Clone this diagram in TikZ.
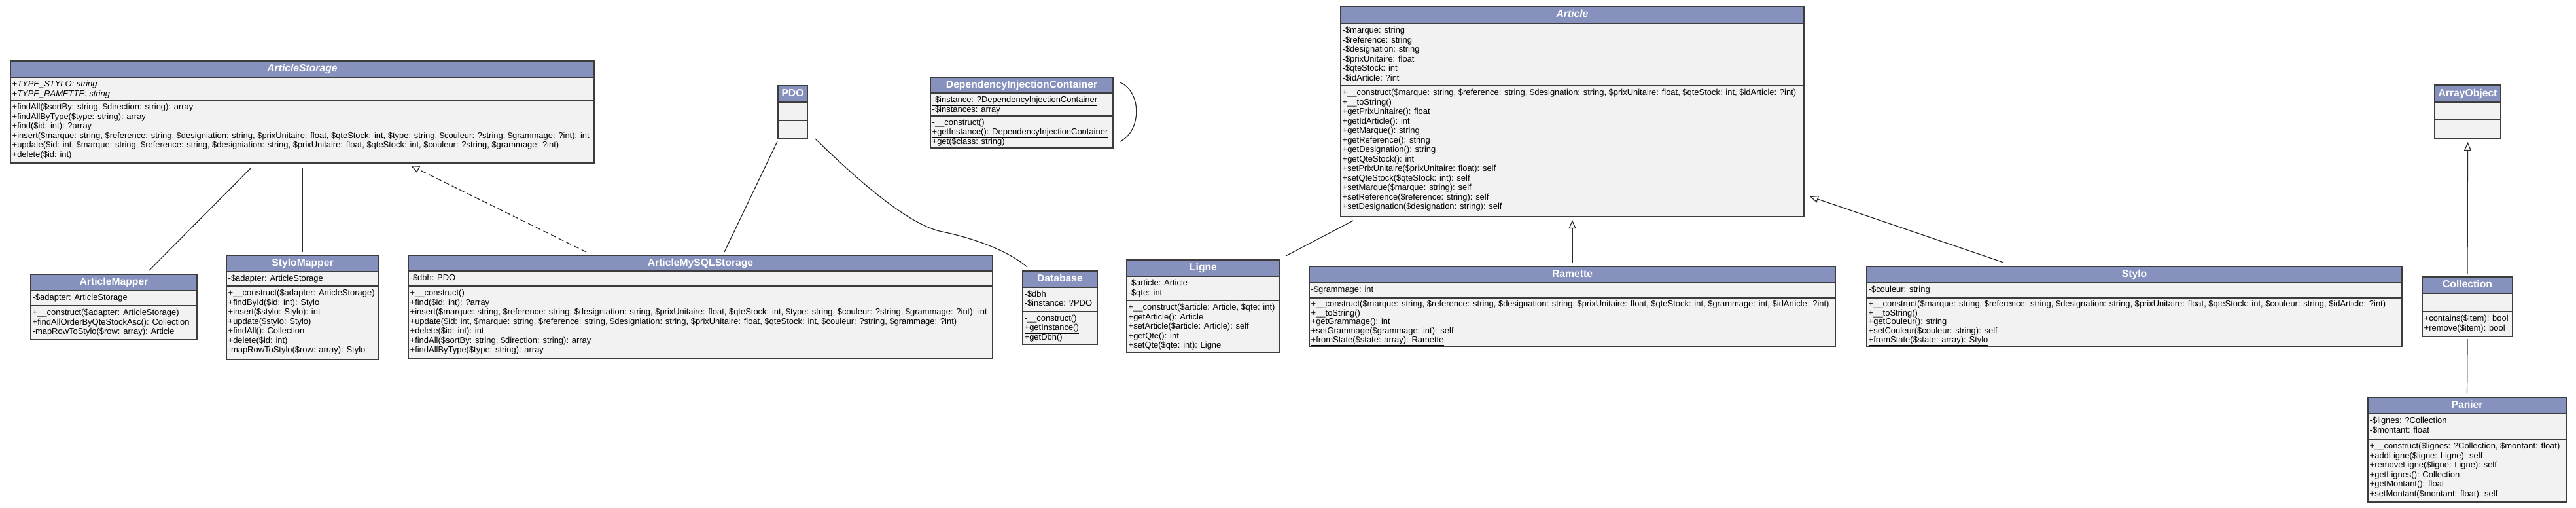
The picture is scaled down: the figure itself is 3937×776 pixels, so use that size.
\documentclass[tikz,border=0pt]{standalone}
\usepackage{fontspec}
\setmainfont{Liberation Sans}
\usetikzlibrary{arrows.meta,calc}
\definecolor{hdr}{RGB}{134,145,190}
\definecolor{bodyc}{RGB}{242,242,242}
\definecolor{bord}{RGB}{60,60,60}
\definecolor{conn}{RGB}{40,40,40}
\tikzset{
  classbody/.style={anchor=north west, fill=bodyc, inner sep=0pt, outer sep=0pt},
  hdrfill/.style={fill=hdr},
  border/.style={draw=bord, line width=1.6pt},
  title/.style={text=white, inner sep=0pt, text height=11.3pt, text depth=3.3pt, font=\fontsize{15.7}{18}\selectfont\bfseries},
  titleit/.style={title, font=\fontsize{15.7}{18}\selectfont\bfseries\itshape},
  txt/.style={anchor=north west, inner sep=0pt, align=left, font=\fontsize{12.95}{14.5}\selectfont},
  txtit/.style={txt, font=\fontsize{12.95}{14.5}\selectfont\itshape},
  txtsm/.style={txt, font=\fontsize{12.95}{14}\selectfont},
  txtrs/.style={txt, font=\fontsize{12.95}{13.8}\selectfont},
  assoc/.style={draw=conn, line width=1.2pt},
  gen/.style={assoc, -{Triangle[open, length=13pt, width=11pt, fill=white]}},
  real/.style={gen, dash pattern=on 8pt off 5pt},
}
% #1 name, #2 x0, #3 y0, #4 x1, #5 y header, #6 y divider, #7 y bottom, #8 title, #9 title style
\newcommand\umlclass[9]{%
  \node[classbody, minimum width={#4-#2}, minimum height={#7-#3}] (#1) at (#2,#3) {};
  \fill[hdrfill] (#2,#3) rectangle (#4,#5);
  \draw[border] (#2,#5) -- (#4,#5) (#2,#6) -- (#4,#6);
  \draw[border] (#2,#3) rectangle (#4,#7);
  \node[#9] (#1-t) at ({(#2+#4)/2},{(#3+#5)/2}) {#8};
}
\newcommand\strt{\rule{0pt}{11pt}}
\begin{document}
\begin{tikzpicture}[x=1pt,y=-1pt]
\useasboundingbox (0,0) rectangle (3937,776);
\fill[white] (0,0) rectangle (3937,776);

% ArticleStorage
\umlclass{as}{16}{93}{908}{118}{153}{249}{ArticleStorage}{titleit}
\node[txtit] (as-a) at (18.5,121.5) {\strt+TYPE\_STYLO: string\\+TYPE\_RAMETTE: string};
\node[txt] (as-m) at (18.5,156.5) {\strt+findAll(\$sortBy: string, \$direction: string): array\\
+findAllByType(\$type: string): array\\
+find(\$id: int): ?array\\
+insert(\$marque: string, \$reference: string, \$designiation: string, \$prixUnitaire: float, \$qteStock: int, \$type: string, \$couleur: ?string, \$grammage: ?int): int\\
+update(\$id: int, \$marque: string, \$reference: string, \$designiation: string, \$prixUnitaire: float, \$qteStock: int, \$couleur: ?string, \$grammage: ?int)\\
+delete(\$id: int)};

% ArticleMapper
\umlclass{am}{47}{419}{301}{444}{467}{519}{ArticleMapper}{title}
\node[txt] (am-a) at (49.5,447.5) {\strt-\$adapter: ArticleStorage};
\node[txt] (am-m) at (49.5,470.5) {\strt+\_\_construct(\$adapter: ArticleStorage)\\
+findAllOrderByQteStockAsc(): Collection\\
-mapRowToStylo(\$row: array): Article};

% StyloMapper
\umlclass{sm}{346}{390}{579}{415}{437}{549}{StyloMapper}{title}
\node[txt] (sm-a) at (348.5,418.5) {\strt-\$adapter: ArticleStorage};
\node[txt] (sm-m) at (348.5,440.5) {\strt+\_\_construct(\$adapter: ArticleStorage)\\
+findById(\$id: int): Stylo\\
+insert(\$stylo: Stylo): int\\
+update(\$stylo: Stylo)\\
+findAll(): Collection\\
+delete(\$id: int)\\
-mapRowToStylo(\$row: array): Stylo};

% ArticleMySQLStorage
\umlclass{ams}{624}{390}{1517}{414}{437}{548}{ArticleMySQLStorage}{title}
\node[txt] (ams-a) at (626.5,417.5) {\strt-\$dbh: PDO};
\node[txt] (ams-m) at (626.5,440.5) {\strt+\_\_construct()\\
+find(\$id: int): ?array\\
+insert(\$marque: string, \$reference: string, \$designiation: string, \$prixUnitaire: float, \$qteStock: int, \$type: string, \$couleur: ?string, \$grammage: ?int): int\\
+update(\$id: int, \$marque: string, \$reference: string, \$designiation: string, \$prixUnitaire: float, \$qteStock: int, \$couleur: ?string, \$grammage: ?int)\\
+delete(\$id: int): int\\
+findAll(\$sortBy: string, \$direction: string): array\\
+findAllByType(\$type: string): array};

% PDO
\umlclass{pdo}{1189}{131}{1234}{156}{184}{212}{PDO}{title}

% DependencyInjectionContainer
\umlclass{dic}{1422}{118}{1701}{142}{177}{226}{DependencyInjectionContainer}{title}
\node[txtsm] (dic-a) at (1424.5,145.5) {\strt\underline{-\$instance: ?DependencyInjectionContainer}\\
-\$instances: array};
\node[txtsm] (dic-m) at (1424.5,180.5) {\strt-\_\_construct()\\
\underline{+getInstance(): DependencyInjectionContainer}\\
+get(\$class: string)};

% Database
\umlclass{db}{1563}{414}{1677}{439}{476}{526}{Database}{title}
\node[txtsm] (db-a) at (1565.5,442.5) {\strt-\$dbh\\ \underline{-\$instance: ?PDO}};
\node[txtsm] (db-m) at (1565.5,479.5) {\strt-\_\_construct()\\ \underline{+getInstance()}\\ +getDbh()};

% Article
\umlclass{ar}{2049}{10}{2757}{36}{131}{331}{Article}{titleit}
\node[txt] (ar-a) at (2051.5,39.5) {\strt-\$marque: string\\
-\$reference: string\\
-\$designation: string\\
-\$prixUnitaire: float\\
-\$qteStock: int\\
-\$idArticle: ?int};
\node[txt] (ar-m) at (2051.5,134.5) {\strt+\_\_construct(\$marque: string, \$reference: string, \$designation: string, \$prixUnitaire: float, \$qteStock: int, \$idArticle: ?int)\\
+\_\_toString()\\
+getPrixUnitaire(): float\\
+getIdArticle(): int\\
+getMarque(): string\\
+getReference(): string\\
+getDesignation(): string\\
+getQteStock(): int\\
+setPrixUnitaire(\$prixUnitaire: float): self\\
+setQteStock(\$qteStock: int): self\\
+setMarque(\$marque: string): self\\
+setReference(\$reference: string): self\\
+setDesignation(\$designation: string): self};

% Ligne
\umlclass{li}{1722}{397}{1956}{422}{459}{538}{Ligne}{title}
\node[txt] (li-a) at (1724.5,425.5) {\strt-\$article: Article\\ -\$qte: int};
\node[txt] (li-m) at (1724.5,462.5) {\strt+\_\_construct(\$article: Article, \$qte: int)\\
+getArticle(): Article\\
+setArticle(\$article: Article): self\\
+getQte(): int\\
+setQte(\$qte: int): Ligne};

% Ramette
\umlclass{ra}{2001}{407}{2805}{432}{455}{529}{Ramette}{title}
\node[txt] (ra-a) at (2003.5,435.5) {\strt-\$grammage: int};
\node[txtrs] (ra-m) at (2003.5,457) {\strt+\_\_construct(\$marque: string, \$reference: string, \$designation: string, \$prixUnitaire: float, \$qteStock: int, \$grammage: int, \$idArticle: ?int)\\
+\_\_toString()\\
+getGrammage(): int\\
+setGrammage(\$grammage: int): self\\
\underline{+fromState(\$state: array): Ramette}};

% Stylo
\umlclass{st}{2853}{407}{3671}{432}{455}{529}{Stylo}{title}
\node[txt] (st-a) at (2855.5,435.5) {\strt-\$couleur: string};
\node[txtrs] (st-m) at (2855.5,457) {\strt+\_\_construct(\$marque: string, \$reference: string, \$designation: string, \$prixUnitaire: float, \$qteStock: int, \$couleur: string, \$idArticle: ?int)\\
+\_\_toString()\\
+getCouleur(): string\\
+setCouleur(\$couleur: string): self\\
\underline{+fromState(\$state: array): Stylo}};

% ArrayObject
\umlclass{ao}{3721}{130}{3822}{156}{183}{212}{ArrayObject}{title}

% Collection
\umlclass{co}{3702}{423}{3840}{448}{476}{514}{Collection}{title}
\node[txt] (co-m) at (3704.5,479.5) {\strt+contains(\$item): bool\\ +remove(\$item): bool};

% Panier
\umlclass{pa}{3619}{607}{3922}{632}{671}{767}{Panier}{title}
\node[txt] (pa-a) at (3621.5,635.5) {\strt-\$lignes: ?Collection\\ -\$montant: float};
\node[txt] (pa-m) at (3621.5,674.5) {\strt+\_\_construct(\$lignes: ?Collection, \$montant: float)\\
+addLigne(\$ligne: Ligne): self\\
+removeLigne(\$ligne: Ligne): self\\
+getLignes(): Collection\\
+getMontant(): float\\
+setMontant(\$montant: float): self};

% connectors
\coordinate (pdodbmid) at (1440,354);
\draw[assoc] ($(as.south west)+(368,7)$) -- ($(am.north west)+(181,-6)$);
\draw[assoc] ($(sm.north |- as.south)+(0,7)$) -- ($(sm.north)+(0,-5)$);
\draw[real] ($(ams.north west)+(272,-5)$) -- ($(as.south west)+(612,4)$);
\draw[assoc] ($(pdo.south west)+(-1,4)$) -- ($(ams.north west)+(483,-5)$);
\draw[assoc] ($(pdo.south east)+(12,0)$) .. controls +(70,68) and +(-50,-10) .. (pdodbmid)
   .. controls +(50,10) and +(-28,-24) .. ($(db.north west)+(7,-6)$);
\draw[assoc] ($(dic.north east)+(11,8)$) .. controls +(33,14) and +(33,-16) .. ($(dic.south east)+(11,-10)$);
\draw[assoc] ($(li.north east)+(9,-6)$) -- ($(ar.south west)+(19,6)$);
\draw[gen] ($(ra.north west)+(402,-5)$) -- ($(ar.south west)+(354,5)$);
\draw[gen] ($(st.north west)+(209,-6)$) -- ($(ar.south east)+(9,-31)$);
\draw[gen] ($(co.north)+(0,-5)$) -- ($(ao.south)+(0,5)$);
\draw[assoc] ($(co.south)+(0,4)$) -- ($(pa.north)+(0,-6)$);
\end{tikzpicture}
\end{document}
